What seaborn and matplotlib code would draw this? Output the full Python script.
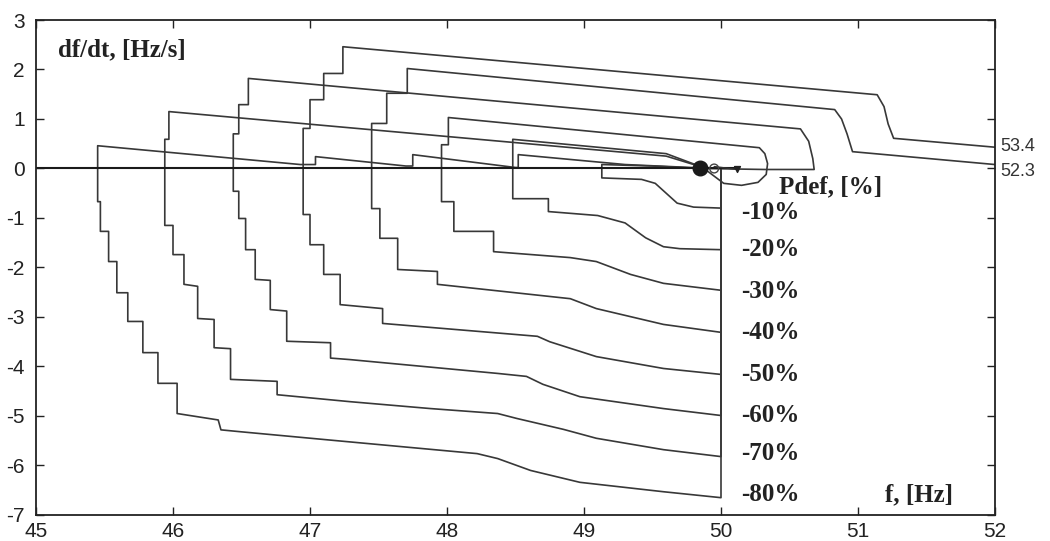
import numpy as np
import pandas as pd
import matplotlib
matplotlib.use("Agg")
import matplotlib.pyplot as plt
import seaborn as sns

# ---------------- data ----------------
pdef_labels = ["-10%", "-20%", "-30%", "-40%", "-50%", "-60%", "-70%", "-80%"]
label_levels = [-0.89, -1.64, -2.48, -3.31, -4.16, -4.99, -5.76, -6.59]

f_10 = [50.0, 50.0, 49.8, 49.68, 49.6, 49.52, 49.42, 49.13, 49.13, 49.5, 49.86]
d_10 = [0.0, -0.80, -0.78, -0.7, -0.5, -0.3, -0.22, -0.19, 0.08, 0.05, 0.0]

f_20 = [50.0, 50.0, 49.7, 49.58, 49.45, 49.3, 49.1, 48.74, 48.74, 48.48, 48.48, 49.6, 49.86]
d_20 = [0.0, -1.64, -1.62, -1.58, -1.4, -1.1, -0.95, -0.87, -0.61, -0.61, 0.59, 0.3, 0.03]

f_30 = [50.0, 50.0, 49.58, 49.34, 49.09, 48.9, 48.34, 48.34, 48.05, 48.05, 47.96, 47.96,
        48.01, 48.01, 50.28, 50.32, 50.34, 50.33, 50.27, 50.15, 50.02, 49.9]
d_30 = [0.0, -2.46, -2.32, -2.14, -1.88, -1.8, -1.68, -1.27, -1.27, -0.67, -0.67, 0.48,
        0.48, 1.03, 0.42, 0.3, 0.1, -0.12, -0.28, -0.34, -0.3, -0.05]

f_40 = [50.0, 50.0, 49.58, 49.09, 48.9, 47.93, 47.93, 47.64, 47.64, 47.51, 47.51, 47.45,
        47.45, 47.56, 47.56, 47.71, 47.71, 50.83, 50.88, 50.92, 50.96, 52.0]
d_40 = [0.0, -3.31, -3.15, -2.83, -2.63, -2.34, -2.08, -2.04, -1.41, -1.41, -0.81, -0.81,
        0.91, 0.91, 1.52, 1.52, 2.02, 1.19, 1.0, 0.7, 0.34, 0.08]

f_50 = [50.0, 50.0, 49.58, 49.09, 48.75, 48.66, 47.53, 47.53, 47.22, 47.22, 47.1, 47.1,
        47.0, 47.0, 46.95, 46.95, 47.0, 47.0, 47.1, 47.1, 47.24, 47.24, 51.14, 51.19,
        51.22, 51.26, 52.0]
d_50 = [0.0, -4.16, -4.04, -3.8, -3.5, -3.39, -3.13, -2.83, -2.75, -2.14, -2.14, -1.54,
        -1.54, -0.93, -0.93, 0.81, 0.81, 1.39, 1.39, 1.92, 1.92, 2.46, 1.49, 1.25,
        0.9, 0.61, 0.43]

f_60 = [50.0, 50.0, 49.58, 48.97, 48.7, 48.58, 48.37, 47.29, 47.15, 47.15, 46.83, 46.83,
        46.71, 46.71, 46.6, 46.6, 46.53, 46.53, 46.48, 46.48, 46.44, 46.44, 46.48, 46.48,
        46.55, 46.55, 50.58, 50.64, 50.67, 50.68, 50.32, 49.88]
d_60 = [0.0, -4.99, -4.85, -4.61, -4.36, -4.2, -4.14, -3.86, -3.83, -3.52, -3.49, -2.88,
        -2.85, -2.26, -2.24, -1.64, -1.64, -1.01, -1.01, -0.46, -0.46, 0.7, 0.7, 1.29,
        1.29, 1.82, 0.8, 0.55, 0.2, -0.02, -0.02, 0.0]

f_70 = [50.0, 50.0, 49.58, 49.09, 48.85, 48.51, 48.37, 47.88, 47.29, 46.76, 46.76, 46.42,
        46.42, 46.3, 46.3, 46.18, 46.18, 46.08, 46.08, 46.0, 46.0, 45.94, 45.94, 45.97,
        45.97, 49.6, 49.86]
d_70 = [0.0, -5.82, -5.68, -5.45, -5.27, -5.05, -4.95, -4.85, -4.71, -4.57, -4.3, -4.26,
        -3.64, -3.62, -3.05, -3.03, -2.38, -2.34, -1.74, -1.74, -1.15, -1.15, 0.59, 0.59,
        1.15, 0.25, 0.03]

f_80 = [50.0, 50.0, 49.58, 48.97, 48.61, 48.37, 48.22, 47.2, 46.5, 46.35, 46.33, 46.03,
        46.03, 45.89, 45.89, 45.78, 45.78, 45.67, 45.67, 45.59, 45.59, 45.53, 45.53, 45.47,
        45.47, 45.45, 45.45, 46.93, 47.04, 47.04, 47.7, 47.75, 47.75, 48.5, 48.52, 48.52,
        49.3, 49.86]
d_80 = [0.0, -6.65, -6.53, -6.34, -6.1, -5.86, -5.76, -5.5, -5.32, -5.28, -5.08, -4.95,
        -4.34, -4.34, -3.72, -3.72, -3.09, -3.09, -2.51, -2.51, -1.88, -1.88, -1.27, -1.27,
        -0.67, -0.67, 0.46, 0.08, 0.08, 0.24, 0.05, 0.05, 0.28, 0.02, 0.02, 0.28,
        0.08, 0.01]

zero_f = [45.0, 50.1]
zero_d = [0.0, 0.0]

overshoot_labels = ["53.4", "52.3"]
overshoot_levels = [0.44, -0.06]

x_ticks = [45, 46, 47, 48, 49, 50, 51, 52]
y_ticks = [-7, -6, -5, -4, -3, -2, -1, 0, 1, 2, 3]

# ---------------- build table ----------------
curves_f = [f_10, f_20, f_30, f_40, f_50, f_60, f_70, f_80]
curves_d = [d_10, d_20, d_30, d_40, d_50, d_60, d_70, d_80]
rows = []
for lab, fs, ds in zip(pdef_labels, curves_f, curves_d):
    for i, (fv, dv) in enumerate(zip(fs, ds)):
        rows.append({"curve": lab, "order": i, "f": fv, "dfdt": dv})
df = pd.DataFrame(rows)

# ---------------- plot ----------------
sns.set_theme(style="ticks")
plt.rcParams["font.family"] = ["Liberation Sans", "DejaVu Sans"]
plt.rcParams["axes.unicode_minus"] = False

fig = plt.figure(figsize=(10.5, 5.41), dpi=100)
ax = fig.add_axes([36 / 1050, 26 / 541, (995 - 36) / 1050, 495 / 541])

line_col = "#383838"
sns.lineplot(data=df, x="f", y="dfdt", units="curve", estimator=None, sort=False,
             color=line_col, linewidth=1.2, ax=ax, legend=False)
sns.lineplot(x=zero_f, y=zero_d, sort=False, color="#1a1a1a", linewidth=1.5, ax=ax)

# convergence point
ax.scatter([49.85], [0.02], s=110, color="#1a1a1a", zorder=5)
ax.scatter([49.95], [0.0], s=40, facecolors="none", edgecolors="#444444", linewidths=1.0, zorder=5)
ax.plot([49.95, 50.12], [0.04, -0.02], color="#333333", lw=1.0)
ax.scatter([50.12], [-0.02], marker="v", s=18, color="#222222", zorder=5)

ax.set_xlim(45, 52)
ax.set_ylim(-7, 3)
ax.set_xticks(x_ticks)
ax.set_yticks(y_ticks)
ax.set_xlabel("")
ax.set_ylabel("")
ax.tick_params(direction="in", length=6, width=1.0, top=True, right=True,
               labelsize=15, colors="#222222")
ax.tick_params(axis="y", pad=8)
ax.tick_params(axis="x", pad=5)
for s in ax.spines.values():
    s.set_linewidth(1.3)
    s.set_color("#222222")

serif = ["Liberation Serif", "DejaVu Serif"]
ax.text(45.16, 2.4, "df/dt, [Hz/s]", fontsize=18, fontweight="bold", family=serif,
        ha="left", va="center", color="#222222")
ax.text(50.42, -0.38, "Pdef, [%]", fontsize=18, fontweight="bold", family=serif,
        ha="left", va="center", color="#222222")
for lab, lv in zip(pdef_labels, label_levels):
    ax.text(50.15, lv, lab, fontsize=18, fontweight="bold", family=serif,
            ha="left", va="center", color="#222222")
ax.text(51.2, -6.59, "f, [Hz]", fontsize=18, fontweight="bold", family=serif,
        ha="left", va="center", color="#222222")
for lab, lv in zip(overshoot_labels, overshoot_levels):
    ax.text(52.04, lv, lab, fontsize=13, ha="left", va="center", color="#333333",
            clip_on=False)

fig.savefig("out.png", dpi=100, facecolor="white")
